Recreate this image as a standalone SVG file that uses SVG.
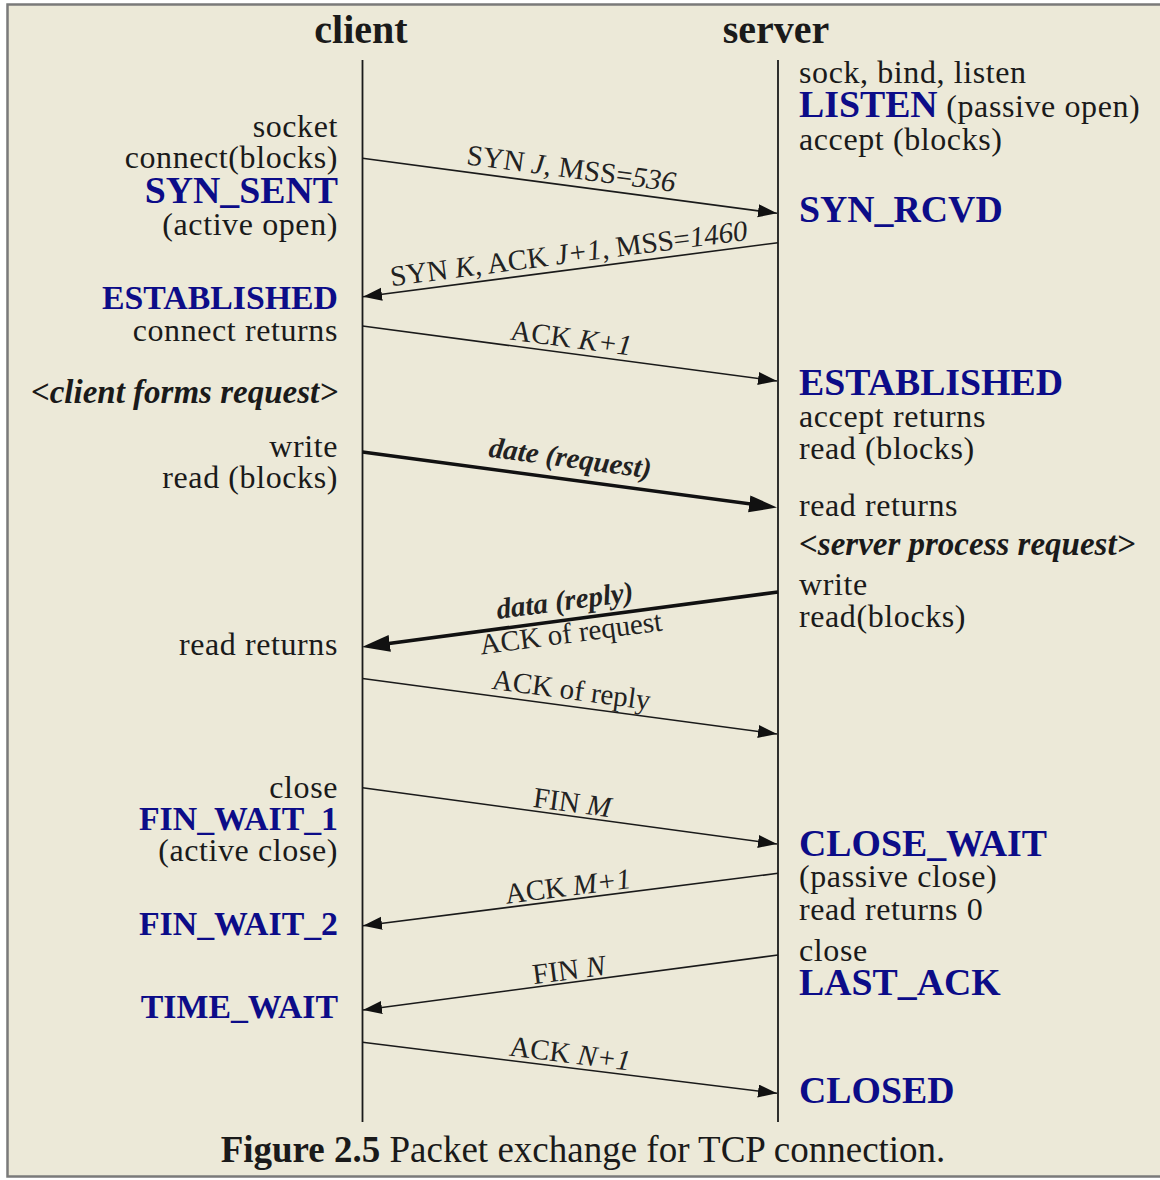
<svg xmlns="http://www.w3.org/2000/svg" width="1160" height="1180" viewBox="0 0 1160 1180">
  <style>
    text { font-family: "Liberation Serif", "Times New Roman", serif; fill: #1a1a1a; }
    .r { font-size: 32px; letter-spacing: 0.6px; }
    .end { text-anchor: end; }
    .state { font-weight: bold; fill: #0c0c88; letter-spacing: 0; }
    .sL { font-size: 33.8px; }
    .sR { font-size: 37.8px; }
    .note { font-size: 33px; font-weight: bold; font-style: italic; }
    .head { font-size: 40px; font-weight: bold; text-anchor: middle; }
    .lbl { font-size: 29px; text-anchor: middle; fill: #222; }
    .it { font-style: italic; }
    .bi { font-weight: bold; font-style: italic; }
    .life { stroke: #1a1a1a; stroke-width: 1.8; }
    .msg { stroke: #1a1a1a; stroke-width: 1.6; fill: none; marker-end: url(#ah); }
    .data { stroke: #111; stroke-width: 3.6; fill: none; marker-end: url(#ahb); }
  </style>
  <defs>
    <marker id="ah" markerUnits="userSpaceOnUse" markerWidth="20" markerHeight="14" refX="19" refY="6.5" orient="auto">
      <path d="M0,0 L19,6.5 L0,13 z" fill="#111"/>
    </marker>
    <marker id="ahb" markerUnits="userSpaceOnUse" markerWidth="30" markerHeight="18" refX="18" refY="8.5" orient="auto">
      <path d="M0,0 L28,8.5 L0,17 z" fill="#111"/>
    </marker>
  </defs>

  <!-- page and frame -->
  <rect x="0" y="0" width="1160" height="1180" fill="#ffffff"/>
  <rect id="frame" x="7.5" y="4.5" width="1160" height="1172" fill="#ECE9D8" stroke="#7a7a7a" stroke-width="2.5"/>

  <!-- lifelines -->
  <g id="client">
    <text class="head" x="361" y="43">client</text>
    <line class="life" x1="362.5" y1="60" x2="362.5" y2="1122"/>
  </g>
  <g id="server">
    <text class="head" x="776" y="43">server</text>
    <line class="life" x1="778" y1="60" x2="778" y2="1122"/>
  </g>

  <!-- client side states -->
  <g id="c-open">
    <text class="r end" x="338" y="137">socket</text>
    <text class="r end" x="338" y="168">connect(blocks)</text>
    <text class="state sR end" x="338" y="203">SYN_SENT</text>
    <text class="r end" x="338" y="235">(active open)</text>
  </g>
  <g id="c-established">
    <text class="state sL end" x="338" y="309">ESTABLISHED</text>
    <text class="r end" x="338" y="341">connect returns</text>
  </g>
  <g id="c-request">
    <text class="note end" x="338" y="403">&lt;client forms request&gt;</text>
  </g>
  <g id="c-write">
    <text class="r end" x="338" y="457">write</text>
    <text class="r end" x="338" y="488">read (blocks)</text>
  </g>
  <g id="c-read">
    <text class="r end" x="338" y="655">read returns</text>
  </g>
  <g id="c-fin-wait-1">
    <text class="r end" x="338" y="798">close</text>
    <text class="state sL end" x="338" y="830">FIN_WAIT_1</text>
    <text class="r end" x="338" y="861">(active close)</text>
  </g>
  <g id="c-fin-wait-2">
    <text class="state sL end" x="338" y="935">FIN_WAIT_2</text>
  </g>
  <g id="c-time-wait">
    <text class="state sL end" x="338" y="1018">TIME_WAIT</text>
  </g>

  <!-- server side states -->
  <g id="s-listen">
    <text class="r" x="799" y="83">sock, bind, listen</text>
    <text class="r" x="799" y="117"><tspan class="state sR">LISTEN</tspan> (passive open)</text>
    <text class="r" x="799" y="150">accept (blocks)</text>
  </g>
  <g id="s-syn-rcvd">
    <text class="state sR" x="799" y="222">SYN_RCVD</text>
  </g>
  <g id="s-established">
    <text class="state sR" x="799" y="395">ESTABLISHED</text>
    <text class="r" x="799" y="427">accept returns</text>
    <text class="r" x="799" y="459">read (blocks)</text>
  </g>
  <g id="s-read">
    <text class="r" x="799" y="516">read returns</text>
  </g>
  <g id="s-process">
    <text class="note" x="799" y="555">&lt;server process request&gt;</text>
  </g>
  <g id="s-write">
    <text class="r" x="799" y="595">write</text>
    <text class="r" x="799" y="627">read(blocks)</text>
  </g>
  <g id="s-close-wait">
    <text class="state sR" x="799" y="856">CLOSE_WAIT</text>
    <text class="r" x="799" y="887">(passive close)</text>
    <text class="r" x="799" y="920">read returns 0</text>
  </g>
  <g id="s-last-ack">
    <text class="r" x="799" y="961">close</text>
    <text class="state sR" x="799" y="995">LAST_ACK</text>
  </g>
  <g id="s-closed">
    <text class="state sR" x="799" y="1103">CLOSED</text>
  </g>

  <!-- segments exchanged between the two ends -->
  <g id="messages">
    <line class="msg" x1="362.5" y1="158.3" x2="777" y2="213.3"/>
    <text class="lbl" transform="translate(570,178) rotate(7.55)">SYN <tspan class="it">J</tspan>, MSS=<tspan class="it">536</tspan></text>

    <line class="msg" x1="778" y1="242.7" x2="363" y2="296.7"/>
    <text class="lbl" transform="translate(570,263) rotate(-7.41)">SYN <tspan class="it">K</tspan>, ACK <tspan class="it">J+1</tspan>, MSS=<tspan class="it">1460</tspan></text>

    <line class="msg" x1="362.5" y1="326" x2="777" y2="381"/>
    <text class="lbl" transform="translate(570,347.5) rotate(7.55)">ACK <tspan class="it">K+1</tspan></text>

    <line class="data" x1="362.5" y1="452" x2="767.1" y2="506.2"/>
    <text class="lbl bi" transform="translate(569,467.5) rotate(7.62)">date (request)</text>

    <line class="data" x1="778" y1="592" x2="371.9" y2="645.7"/>
    <text class="lbl bi" transform="translate(566,610) rotate(-7.5)">data (reply)</text>
    <text class="lbl" transform="translate(572,642.5) rotate(-7.5)">ACK of request</text>

    <line class="msg" x1="362.5" y1="678.5" x2="777" y2="734"/>
    <text class="lbl" transform="translate(570,699.3) rotate(7.62)">ACK of reply</text>

    <line class="msg" x1="362.5" y1="787.7" x2="777" y2="844"/>
    <text class="lbl" transform="translate(571,812) rotate(7.73)">FIN <tspan class="it">M</tspan></text>

    <line class="msg" x1="778" y1="873.3" x2="363" y2="925.7"/>
    <text class="lbl" transform="translate(569,895.8) rotate(-7.2)">ACK <tspan class="it">M+1</tspan></text>

    <line class="msg" x1="778" y1="955" x2="363" y2="1010"/>
    <text class="lbl" transform="translate(570,979.5) rotate(-7.55)">FIN <tspan class="it">N</tspan></text>

    <line class="msg" x1="362.5" y1="1042.3" x2="777" y2="1093.3"/>
    <text class="lbl" transform="translate(569,1063) rotate(7.0)">ACK <tspan class="it">N+1</tspan></text>
  </g>

  <!-- caption -->
  <g id="caption">
    <text x="583" y="1162" font-size="37" text-anchor="middle"><tspan font-weight="bold">Figure 2.5</tspan> Packet exchange for TCP connection.</text>
  </g>
</svg>
